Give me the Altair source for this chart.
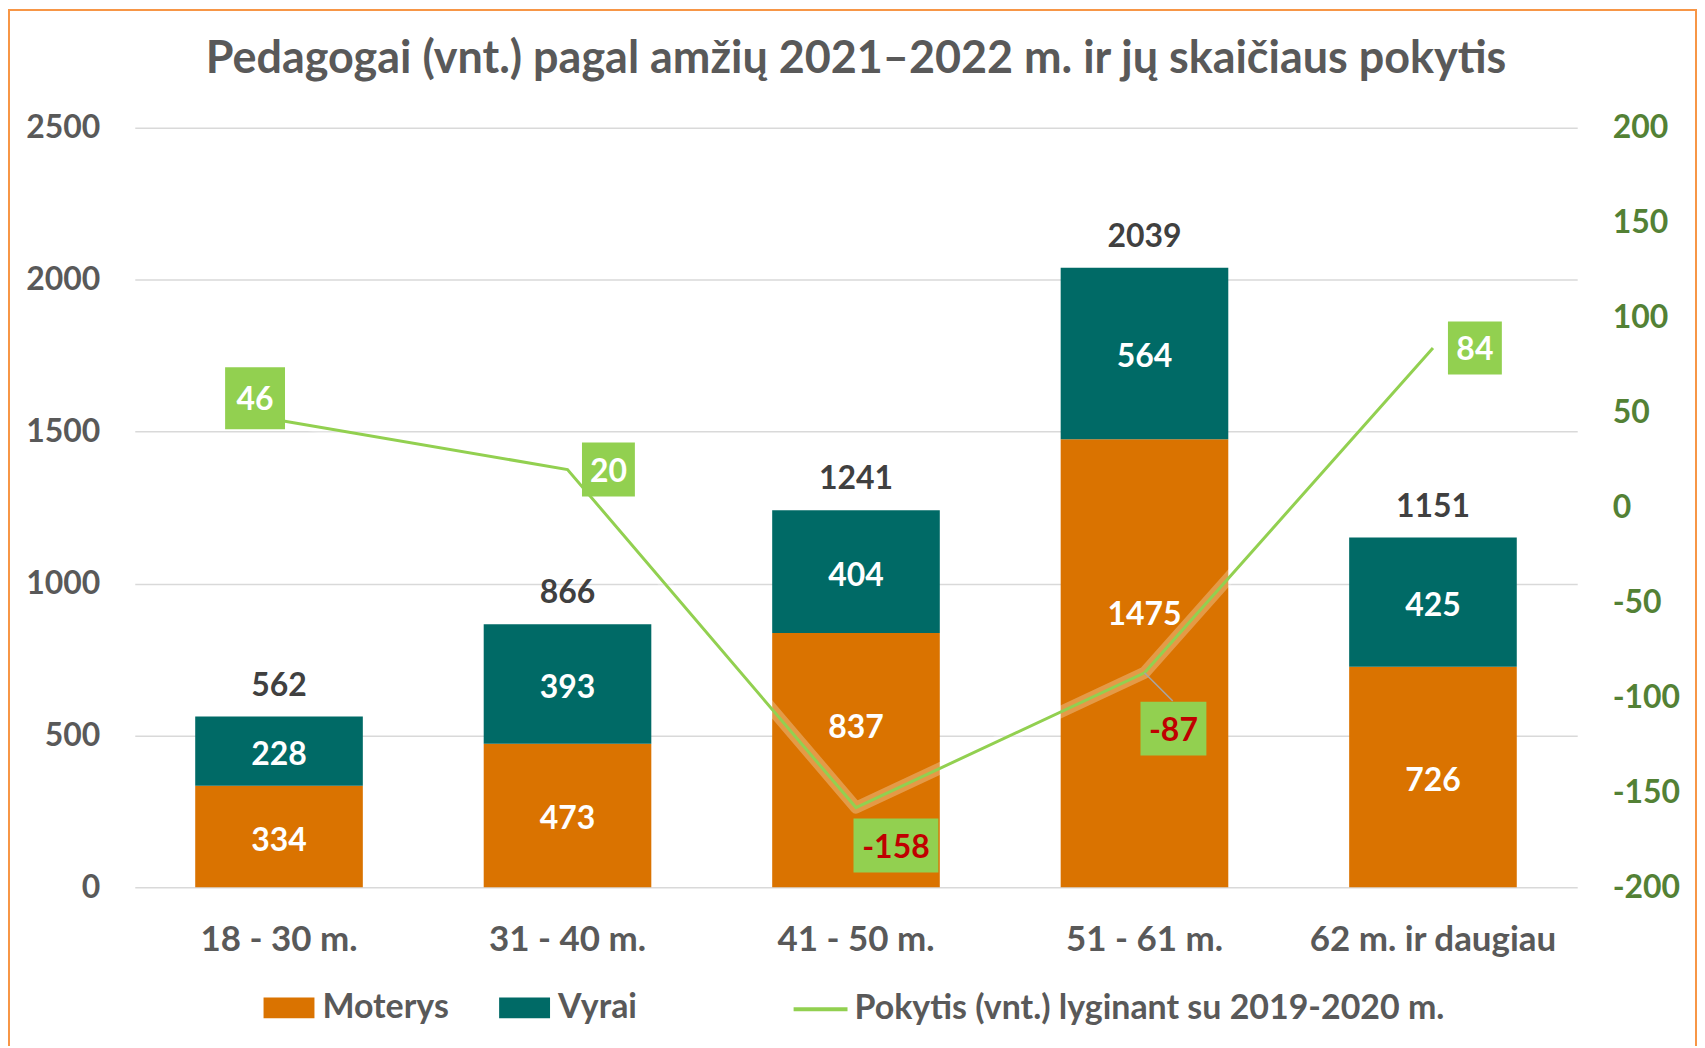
import altair as alt
import pandas as pd

# ---------------- data ----------------
categories = ["18 - 30 m.", "31 - 40 m.", "41 - 50 m.", "51 - 61 m.", "62 m. ir daugiau"]
moterys = [334, 473, 837, 1475, 726]
vyrai = [228, 393, 404, 564, 425]
pokytis = [46, 20, -158, -87, 84]
series_names = ["Moterys", "Vyrai"]
line_name = "Pokytis (vnt.) lyginant su 2019-2020 m."
title_text = "Pedagogai (vnt.) pagal amžių 2021–2022 m. ir jų skaičiaus pokytis"
left_ticks = [0, 500, 1000, 1500, 2000, 2500]
right_ticks = [-200, -150, -100, -50, 0, 50, 100, 150, 200]

# ---------------- layout / style ----------------
label_dx = [-24, 41, 40, 29, 42]
label_dy = [-22, 0, 38, 56, 0]
box_w = [60, 53, 85, 66, 54]
box_h = [62, 54, 54, 54, 53]
# manual upward lift (px) of the "Moterys" segment labels, as in the original
seg_lift_px = [0, 0, 36, 52, 0]

FONT = "Lato"
ORANGE = "#DA7300"
TEAL = "#006A66"
GREEN = "#92D050"
GRAY = "#595959"
DARK = "#404040"
AXGREEN = "#538135"

W, H = 1445, 761
LEFT_MAX = 2500

rows = []
for i, c in enumerate(categories):
    rows.append({"cat": c, "grp": series_names[0], "value": moterys[i], "ord": 0, "lift": seg_lift_px[i]})
    rows.append({"cat": c, "grp": series_names[1], "value": vyrai[i], "ord": 1, "lift": 0})
df_bar = pd.DataFrame(rows)

df_line = pd.DataFrame({
    "cat": categories,
    "val": pokytis,
    "idx": list(range(len(categories))),
    "series": [line_name] * len(categories),
})

X = alt.X(
    "cat:N",
    sort=categories,
    scale=alt.Scale(paddingInner=0.419, paddingOuter=0.2095),
    axis=alt.Axis(
        title=None, labelAngle=0, ticks=False, domain=False, grid=False,
        labelFont=FONT, labelFontSize=35, labelFontWeight="bold",
        labelColor=GRAY, labelPadding=35, labelLimit=400,
    ),
)

left_scale = alt.Scale(domain=[0, LEFT_MAX], nice=False, zero=True)
left_axis = alt.Axis(
    title=None, values=left_ticks, ticks=False, domain=False,
    grid=True, gridColor="#D9D9D9", gridWidth=1.5,
    labelFont=FONT, labelFontSize=32, labelFontWeight="bold",
    labelColor=GRAY, labelPadding=35, labelExpr="toString(datum.value)",
)


def YL(field):
    return alt.Y(field, scale=left_scale, axis=left_axis)


right_scale = alt.Scale(domain=[-200, 200], nice=False, zero=False)
right_axis = alt.Axis(
    title=None, orient="right", values=right_ticks, ticks=False, domain=False,
    grid=False, labelFont=FONT, labelFontSize=32, labelFontWeight="bold",
    labelColor=AXGREEN, labelPadding=35, labelExpr="toString(datum.value)",
)
YR = alt.Y("val:Q", scale=right_scale, axis=right_axis)

base_bar = alt.Chart(df_bar).transform_stack(
    stack="value", as_=["y0", "y1"], groupby=["cat"],
    sort=[alt.SortField("ord", order="ascending")],
).transform_calculate(
    mid=f"(datum.y0 + datum.y1) / 2 + datum.lift * {LEFT_MAX} / {H}",
    lbl="toString(datum.value)",
)

bars = base_bar.mark_bar().encode(
    x=X,
    y=YL("y0:Q"),
    y2="y1:Q",
    color=alt.Color(
        "grp:N",
        scale=alt.Scale(domain=series_names, range=[ORANGE, TEAL]),
        legend=alt.Legend(
            title=None, orient="none", legendX=129, legendY=856,
            direction="horizontal", padding=0,
            symbolType="M-1,-0.41H1V0.41H-1Z", symbolSize=2601,
            symbolStrokeWidth=0, symbolOpacity=1,
            labelFont=FONT, labelFontSize=34, labelFontWeight="bold",
            labelColor=GRAY, labelOffset=8, columnPadding=50, labelLimit=600,
        ),
    ),
    order=alt.Order("ord:Q"),
)

seg_text = base_bar.mark_text(
    font=FONT, fontSize=32, fontWeight="bold", color="white",
    align="center", baseline="middle", dy=4,
).encode(x=X, y=YL("mid:Q"), text="lbl:N")

totals = alt.Chart(df_bar).transform_aggregate(
    total="sum(value)", groupby=["cat"]
).transform_calculate(tl="toString(datum.total)").mark_text(
    font=FONT, fontSize=32, fontWeight="bold", color=DARK,
    align="center", baseline="middle", dy=-31,
).encode(x=X, y=YL("total:Q"), text="tl:N")

title_mark = alt.Chart(pd.DataFrame({"t": [title_text]})).mark_text(
    font=FONT, fontSize=45, fontWeight="bold", color=GRAY,
    align="center", baseline="alphabetic",
).encode(x=alt.value(W / 2), y=alt.value(-55), text="t:N")

border = alt.Chart(pd.DataFrame({"a": [0]})).mark_rect(
    fill="transparent", stroke="#F79646", strokeWidth=2,
).encode(x=alt.value(-126), x2=alt.value(1564), y=alt.value(-118), y2=alt.value(960))

left = alt.layer(bars, seg_text, totals, title_mark, border)

glow = alt.Chart(df_line).mark_line(
    stroke="white", strokeWidth=12, opacity=0.28, strokeJoin="round",
).encode(x=X, y=YR)

line = alt.Chart(df_line).mark_line(strokeWidth=3).encode(
    x=X, y=YR,
    stroke=alt.Stroke(
        "series:N",
        scale=alt.Scale(domain=[line_name], range=[GREEN]),
        legend=alt.Legend(
            title=None, orient="none", legendX=658, legendY=854, padding=0,
            symbolType="stroke", symbolSize=2916, symbolStrokeWidth=4,
            labelFont=FONT, labelFontSize=34, labelFontWeight="bold",
            labelColor=GRAY, labelOffset=5, labelLimit=900,
        ),
    ),
)

leader = alt.Chart(df_line).transform_filter(alt.datum.idx == 3).mark_point(
    shape="M0,0L1,1", size=3204, filled=False, stroke="#A6A6A6",
    strokeWidth=1.5, opacity=1,
).encode(x=X, y=YR)

label_layers = []
for i in range(len(categories)):
    w, h = box_w[i], box_h[i]
    r = h / w
    box = alt.Chart(df_line).transform_filter(alt.datum.idx == i).mark_point(
        shape=f"M-1,-{r:.4f}H1V{r:.4f}H-1Z", size=w * w, filled=True,
        fill=GREEN, opacity=1, strokeWidth=0,
        xOffset=label_dx[i], yOffset=label_dy[i],
    ).encode(x=X, y=YR)
    txt = alt.Chart(df_line).transform_filter(alt.datum.idx == i).transform_calculate(
        vl="toString(datum.val)"
    ).mark_text(
        font=FONT, fontSize=32, fontWeight="bold", align="center",
        baseline="middle", dx=label_dx[i], dy=label_dy[i] + 2,
    ).encode(
        x=X, y=YR,
        text="vl:N",
        color=alt.condition(alt.datum.val < 0, alt.value("#C00000"), alt.value("white")),
    )
    label_layers += [box, txt]

right = alt.layer(glow, line, leader, *label_layers)

chart = alt.layer(left, right).resolve_scale(y="independent").properties(
    width=W, height=H,
    padding={"left": 127, "top": 119, "right": 120, "bottom": 158},
    autosize=alt.AutoSizeParams(type="none"),
    background="white",
).configure_view(stroke="transparent", strokeWidth=0)

chart.save("out.html", embed_options={"renderer": "svg", "actions": False})
